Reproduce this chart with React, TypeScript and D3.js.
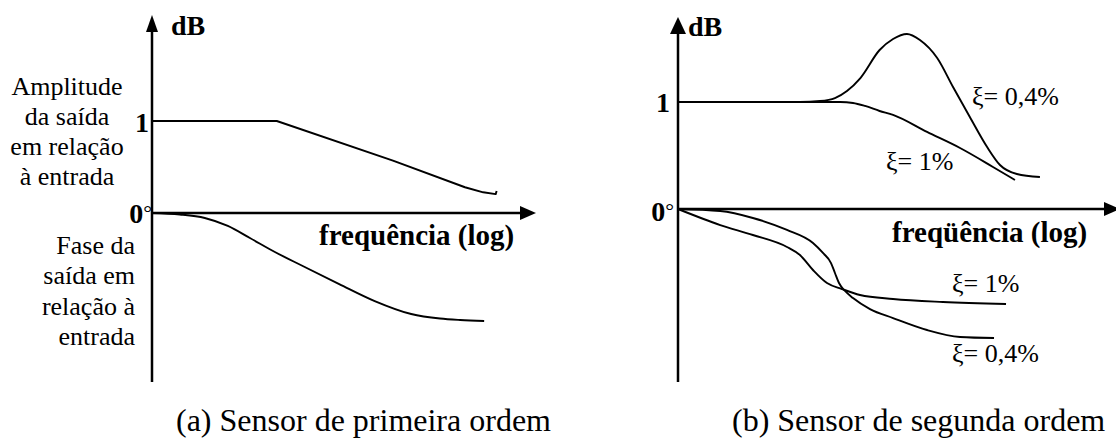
import React, { useRef, useEffect } from 'react';
import * as d3 from 'd3';

const FONT = "'Liberation Serif', 'Times New Roman', Times, 'DejaVu Serif', serif";

// (a) first order sensor: x = log-frequency units, y = amplitude (1 = unit gain), phase below 0
const ampFirst: [number, number][] = [
  [0, 1], [1.3, 1], [2.51, 0.57], [3.26, 0.28], [3.45, 0.225], [3.58, 0.205], [3.59, 0.24],
];
const phaseFirst: [number, number][] = [
  [0, 0], [0.29, -0.016], [0.55, -0.054], [0.79, -0.141], [1.02, -0.272], [1.28, -0.424],
  [1.57, -0.576], [1.95, -0.772], [2.32, -0.957], [2.7, -1.098], [3.0, -1.147],
  [3.21, -1.163], [3.46, -1.174],
];

// (b) second order sensor
const ampSecond04: [number, number][] = [
  [0, 1], [1.27, 1], [1.48, 1.009], [1.635, 1.037], [1.76, 1.103], [1.9, 1.224],
  [2.1, 1.486], [2.24, 1.589], [2.385, 1.636], [2.52, 1.579], [2.7, 1.411], [2.865, 1.14],
  [3.04, 0.86], [3.22, 0.579], [3.354, 0.411], [3.53, 0.327], [3.77, 0.299],
];
const ampSecond1: [number, number][] = [
  [0, 1], [1.69, 1], [1.823, 0.991], [1.948, 0.963], [2.1, 0.916], [2.24, 0.879],
  [2.594, 0.72], [2.938, 0.57], [3.281, 0.393], [3.458, 0.299], [3.51, 0.271],
];
const phaseSecond1: [number, number][] = [
  [0, 0], [0.44, -0.15], [0.78, -0.243], [1.135, -0.355], [1.27, -0.43], [1.406, -0.57],
  [1.552, -0.692], [1.708, -0.748], [1.896, -0.804], [2.24, -0.841], [2.76, -0.869], [3.417, -0.888],
];
const phaseSecond04: [number, number][] = [
  [0, 0], [0.44, -0.019], [0.78, -0.084], [1.135, -0.196], [1.406, -0.318], [1.51, -0.411],
  [1.594, -0.505], [1.635, -0.598], [1.677, -0.692], [1.74, -0.766], [1.823, -0.832],
  [2.0, -0.935], [2.24, -1.019], [2.594, -1.131], [2.938, -1.196], [3.292, -1.206],
];

const ampLabel = ['Amplitude', 'da saída', 'em relação', 'à entrada'];
const phaseLabel = ['Fase da', 'saída em', 'relação à', 'entrada'];

// pixel geometry of the two panels
const layoutA = { ox: 152, oy: 213, ux: 96, uy: 92, top: 15, bottom: 382, right: 536 };
const layoutB = { ox: 678, oy: 209, ux: 96, uy: 107, top: 17, bottom: 382, right: 1120 };

const App = () => {
  const ref = useRef<SVGSVGElement>(null);

  useEffect(() => {
    const svg = d3.select(ref.current);
    svg.selectAll('*').remove();
    svg.append('rect').attr('width', 1116).attr('height', 441).attr('fill', '#fff');

    const drawAxes = (L: typeof layoutA, arrowW: number) => {
      const g = svg.append('g');
      g.append('line').attr('x1', L.ox).attr('x2', L.ox).attr('y1', L.top + 10).attr('y2', L.bottom)
        .attr('stroke', '#000').attr('stroke-width', 2.5);
      g.append('path')
        .attr('d', `M${L.ox},${L.top}L${L.ox - arrowW},${L.top + 17}L${L.ox + arrowW},${L.top + 17}Z`)
        .attr('fill', '#000');
      g.append('line').attr('x1', L.ox).attr('x2', L.right - 10).attr('y1', L.oy).attr('y2', L.oy)
        .attr('stroke', '#000').attr('stroke-width', 2.5);
      g.append('path')
        .attr('d', `M${L.right},${L.oy}L${L.right - 16},${L.oy - 7}L${L.right - 16},${L.oy + 7}Z`)
        .attr('fill', '#000');
    };

    const scales = (L: typeof layoutA) => ({
      x: d3.scaleLinear().domain([0, 1]).range([L.ox, L.ox + L.ux]),
      y: d3.scaleLinear().domain([0, 1]).range([L.oy, L.oy - L.uy]),
    });

    const drawCurve = (data: [number, number][], s: any, curve: any) => {
      const line = d3.line<[number, number]>().x(d => s.x(d[0])).y(d => s.y(d[1])).curve(curve);
      svg.append('path').attr('d', line(data)).attr('fill', 'none')
        .attr('stroke', '#000').attr('stroke-width', 1.9).attr('stroke-linejoin', 'round');
    };

    const text = (x: number, y: number, t: string, size: number, bold = false, anchor = 'start') =>
      svg.append('text').attr('x', x).attr('y', y).text(t)
        .style('font-family', FONT).style('font-size', `${size}px`)
        .style('font-weight', bold ? 'bold' : 'normal').attr('text-anchor', anchor).attr('fill', '#000');

    const zero = (xEnd: number, y: number) => {
      const t = svg.append('text').attr('x', xEnd).attr('y', y).attr('text-anchor', 'end')
        .style('font-family', FONT).attr('fill', '#000');
      t.append('tspan').text('0').style('font-size', '28px').style('font-weight', 'bold');
      t.append('tspan').text('°').style('font-size', '22px').attr('dy', -3);
    };

    // panel (a)
    const sA = scales(layoutA);
    drawAxes(layoutA, 6);
    drawCurve(ampFirst, sA, d3.curveLinear);
    drawCurve(phaseFirst, sA, d3.curveMonotoneX);
    text(171, 35, 'dB', 28, true);
    text(149, 132, '1', 28, true, 'end');
    zero(152, 223);
    ampLabel.forEach((l, i) => text(67, 95 + i * 30, l, 26, false, 'middle'));
    phaseLabel.forEach((l, i) => text(135, 254 + i * 30.3, l, 26, false, 'end'));
    text(319, 245, 'frequência (log)', 29, true);
    text(176, 431, '(a) Sensor de primeira ordem', 32);

    // panel (b)
    const sB = scales(layoutB);
    drawAxes(layoutB, 8);
    drawCurve(ampSecond04, sB, d3.curveMonotoneX);
    drawCurve(ampSecond1, sB, d3.curveMonotoneX);
    drawCurve(phaseSecond1, sB, d3.curveMonotoneX);
    drawCurve(phaseSecond04, sB, d3.curveMonotoneX);
    text(688, 36, 'dB', 28, true);
    text(670, 112, '1', 28, true, 'end');
    zero(674, 221);
    text(892, 242, 'freqüência (log)', 29, true);
    text(972, 105, 'ξ= 0,4%', 26);
    text(886, 170, 'ξ= 1%', 26);
    text(952, 292, 'ξ= 1%', 26);
    text(952, 362, 'ξ= 0,4%', 26);
    text(732, 431, '(b) Sensor de segunda ordem', 32);
  }, []);

  return (
    <svg ref={ref} width={1116} height={441} style={{ position: 'absolute', left: 0, top: 0 }} />
  );
};

export default App;
